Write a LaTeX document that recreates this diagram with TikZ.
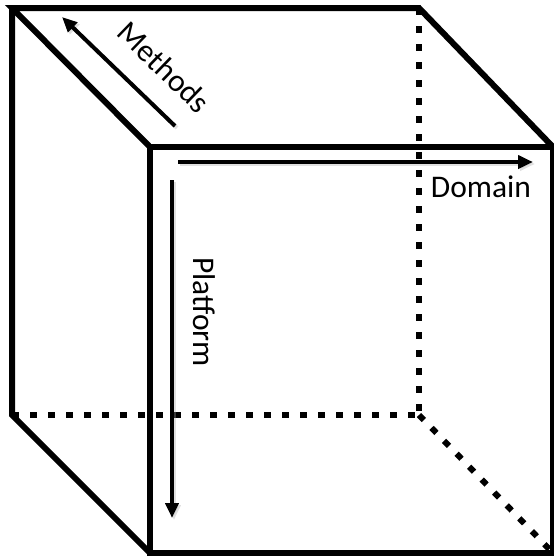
\documentclass[tikz,border=0pt]{standalone}
\usepackage{fontspec}
\setmainfont{Carlito}
\usetikzlibrary{arrows.meta}

\tikzset{
  edge/.style={line width=6pt, line join=miter},
  hidden/.style={line width=6pt, dash pattern=on 7pt off 11pt},
  axis/.style={line width=4pt, -{Triangle[length=15pt,width=13pt]}},
  axisshadow/.style={line width=4pt, draw=black!35, opacity=0.35,
    -{Triangle[length=15pt,width=13pt]}},
  axislabel/.style={font=\fontsize{31.5}{34}\selectfont, inner sep=0pt}
}

\begin{document}
\begin{tikzpicture}[x=1pt, y=-1pt]
  \useasboundingbox (0,0) rectangle (554,560);

  % back face corners
  \coordinate (btl) at (12,8);
  \coordinate (btr) at (419,8);
  \coordinate (bbl) at (12,415);
  \coordinate (bbr) at (419,415);
  % front face corners
  \coordinate (ftl) at (150,147);
  \coordinate (ftr) at (553,147);
  \coordinate (fbl) at (150,553);
  \coordinate (fbr) at (553,553);

  % hidden edges
  \draw[hidden] (btr) -- (bbr);
  \draw[hidden] (bbl) -- (bbr);
  \draw[hidden] (bbr) -- (fbr);

  % visible edges
  \draw[edge] (ftl) -- (btl) -- (btr) -- (ftr);
  \draw[edge] (btl) -- (bbl) -- (fbl);
  \draw[edge] (ftl) rectangle (fbr);

  % axis arrow end points
  \coordinate (mstart) at (175,126);
  \coordinate (mend) at (62,17);
  \coordinate (dstart) at (178,162);
  \coordinate (dend) at (533,162);
  \coordinate (pstart) at (172,180);
  \coordinate (pend) at (172,518);

  % soft shadows under the arrows
  \draw[axisshadow] ([shift={(2,2)}]mstart) -- ([shift={(2,2)}]mend);
  \draw[axisshadow] ([shift={(2,2)}]dstart) -- ([shift={(2,2)}]dend);
  \draw[axisshadow] ([shift={(2,2)}]pstart) -- ([shift={(2,2)}]pend);

  % axes
  \draw[axis] (mstart) -- (mend);
  \draw[axis] (dstart) -- (dend);
  \draw[axis] (pstart) -- (pend);

  % labels
  \node[axislabel, rotate=-44] (methods) at (164,67) {Methods};
  \node[axislabel] (domain) at (481,187) {Domain};
  \node[axislabel, rotate=-90] (platform) at (204,312) {Platform};
\end{tikzpicture}
\end{document}
